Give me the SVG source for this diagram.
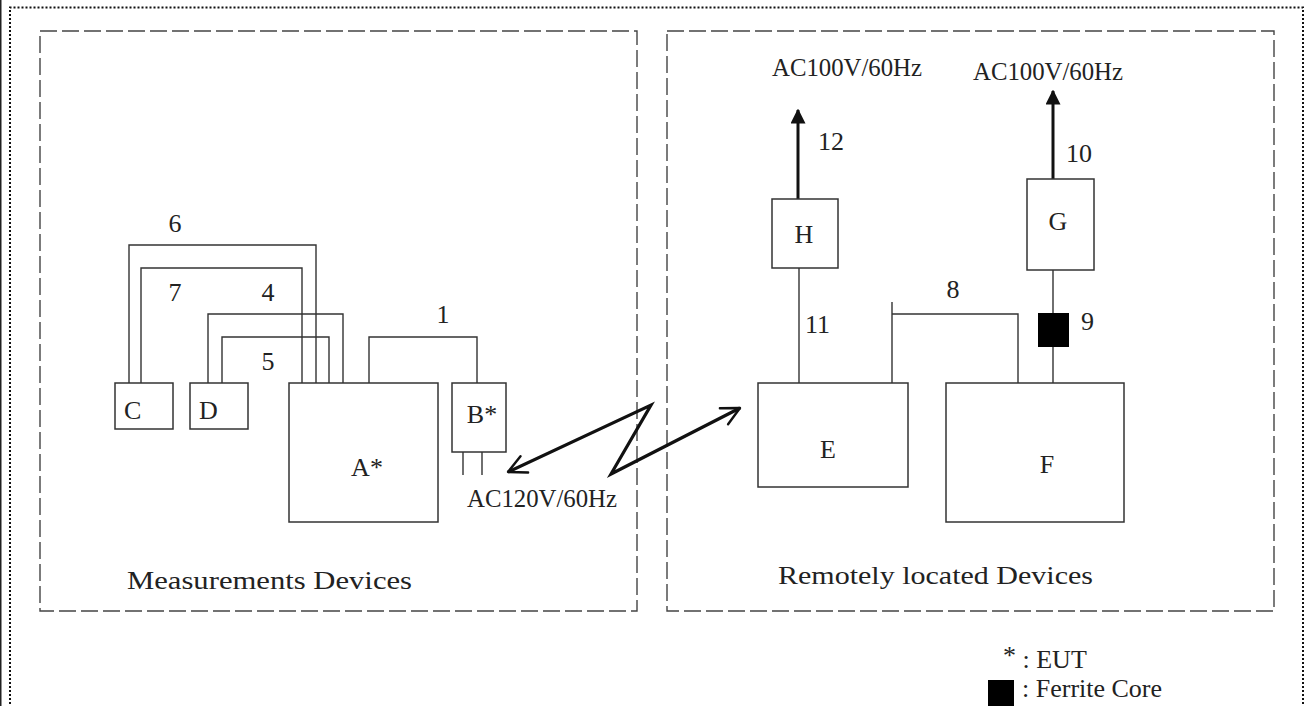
<svg xmlns="http://www.w3.org/2000/svg" width="1308" height="706" viewBox="0 0 1308 706">
<defs>
<style>
.t{font-family:"Liberation Serif","Times New Roman",serif;font-size:26px;fill:#222}
.m{text-anchor:middle}
.box{fill:#fff;stroke:#333;stroke-width:1.5}
.w{fill:none;stroke:#333;stroke-width:1.4}
.dash{fill:none;stroke:#444;stroke-width:1.4;stroke-dasharray:17 5}
.pw{fill:none;stroke:#111;stroke-width:3}
</style>
<marker id="ah" viewBox="0 0 10 10" refX="9" refY="5" markerWidth="5" markerHeight="5" orient="auto" markerUnits="strokeWidth">
<path d="M0,0 L10,5 L0,10 Z" fill="#111"/>
</marker>
<marker id="ch" viewBox="0 0 12 12" refX="10" refY="6" markerWidth="7.5" markerHeight="7.5" orient="auto-start-reverse" markerUnits="strokeWidth">
<path d="M1,1.5 L10,6 L1,10.5" fill="none" stroke="#111" stroke-width="1.2" stroke-linecap="round" stroke-linejoin="round"/>
</marker>
</defs>
<rect x="0" y="0" width="1308" height="706" fill="#fff"/>
<rect x="0" y="0" width="1.5" height="706" fill="#222"/>
<path d="M10,720 V7.5 H1303 V720" fill="none" stroke="#111" stroke-width="2" stroke-dasharray="2 2"/>

<g id="areas">
<rect class="dash" x="40" y="31" width="597" height="580"/>
<rect class="dash" x="667" y="31" width="607" height="580"/>
<text class="t" x="127" y="589" textLength="285" lengthAdjust="spacingAndGlyphs">Measurements Devices</text>
<text class="t" x="778" y="584" textLength="315" lengthAdjust="spacingAndGlyphs">Remotely located Devices</text>
</g>

<g id="connectors">
<polyline class="w" points="129,383 129,245 316,245 316,383"/>
<polyline class="w" points="141,383 141,268 302,268 302,383"/>
<polyline class="w" points="208,383 208,314 343,314 343,383"/>
<polyline class="w" points="222,383 222,337 329,337 329,383"/>
<polyline class="w" points="369,383 369,337 477,337 477,383"/>
<line class="w" x1="463" y1="452" x2="463" y2="475"/>
<line class="w" x1="482" y1="452" x2="482" y2="475"/>
<line class="w" x1="799" y1="268" x2="799" y2="383"/>
<polyline class="w" points="892,302 892,383"/>
<polyline class="w" points="892,314 1018,314 1018,383"/>
<line class="w" x1="1053" y1="270" x2="1053" y2="383"/>
<line class="pw" x1="798" y1="199" x2="798" y2="110" marker-end="url(#ah)"/>
<line class="pw" x1="1053" y1="179" x2="1053" y2="91" marker-end="url(#ah)"/>
<polyline points="508,472 651,405 611,474 740,408" fill="none" stroke="#111" stroke-width="3.2" stroke-linejoin="miter" marker-start="url(#ch)" marker-end="url(#ch)"/>
<text class="t m" x="175" y="232">6</text>
<text class="t m" x="175" y="301">7</text>
<text class="t m" x="268" y="301">4</text>
<text class="t m" x="268" y="370">5</text>
<text class="t m" x="443" y="323">1</text>
<text class="t" x="467" y="507" textLength="150" lengthAdjust="spacingAndGlyphs">AC120V/60Hz</text>
<text class="t" x="772" y="76" textLength="150" lengthAdjust="spacingAndGlyphs">AC100V/60Hz</text>
<text class="t" x="973" y="80" textLength="150" lengthAdjust="spacingAndGlyphs">AC100V/60Hz</text>
<text class="t" x="818" y="150">12</text>
<text class="t" x="805" y="333">11</text>
<text class="t" x="1066" y="162">10</text>
<text class="t m" x="953" y="298">8</text>
<text class="t" x="1081" y="330">9</text>
</g>

<g id="node-C"><rect class="box" x="115" y="383" width="58" height="46"/><text class="t" x="124" y="419">C</text></g>
<g id="node-D"><rect class="box" x="190" y="383" width="58" height="46"/><text class="t" x="199" y="419">D</text></g>
<g id="node-A"><rect class="box" x="289" y="383" width="149" height="139"/><text class="t m" x="367" y="476">A*</text></g>
<g id="node-B"><rect class="box" x="452" y="383" width="54" height="69"/><text class="t m" x="482" y="423">B*</text></g>
<g id="node-E"><rect class="box" x="758" y="383" width="150" height="104"/><text class="t m" x="828" y="458">E</text></g>
<g id="node-F"><rect class="box" x="946" y="383" width="178" height="139"/><text class="t m" x="1047" y="473">F</text></g>
<g id="node-H"><rect class="box" x="772" y="199" width="66" height="69"/><text class="t m" x="804" y="243">H</text></g>
<g id="node-G"><rect class="box" x="1027" y="179" width="67" height="91"/><text class="t m" x="1058" y="230">G</text></g>
<g id="ferrite"><rect x="1038" y="313" width="31" height="34" fill="#000"/></g>

<g id="legend">
<text class="t" x="1003" y="668"><tspan dy="-4">*</tspan><tspan dy="4"> : EUT</tspan></text>
<rect x="988" y="680" width="26" height="26" fill="#000"/>
<text class="t" x="1022" y="697">: Ferrite Core</text>
</g>
</svg>
